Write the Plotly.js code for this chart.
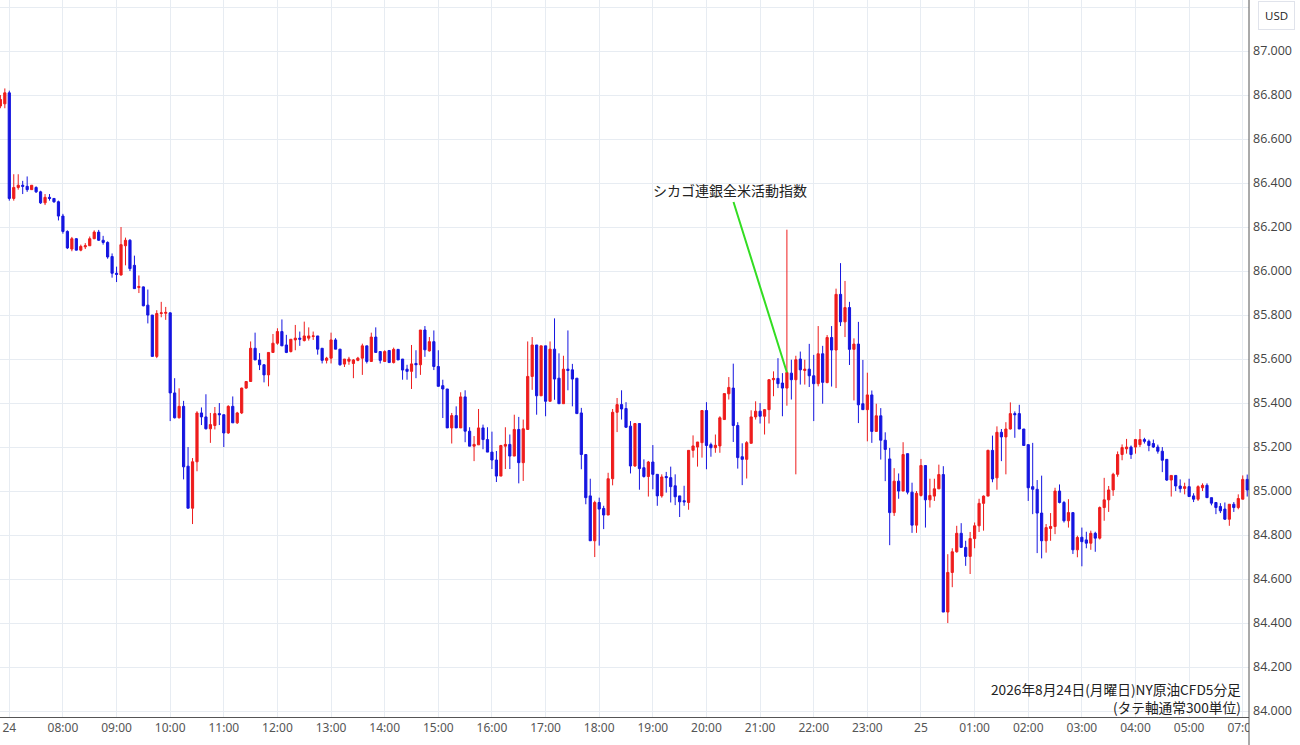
<!DOCTYPE html>
<html>
<head>
<meta charset="utf-8">
<script src="https://cdn.plot.ly/plotly-3.0.1.min.js"></script>
<style>
  html, body { margin: 0; padding: 0; background: #fff; }
  #chart { width: 1300px; height: 745px; }
</style>
</head>
<body>
<div id="chart"></div>
<script>
// 5-minute bars, NY crude oil CFD. First two bars are the end of the previous session,
// then 07:00 on the 24th through 05:55, and 07:00 / 07:05 of the next session.
const open = [
  86.75, 86.76,
  86.81, 86.33, 86.38, 86.39, 86.385, 86.37, 86.38, 86.36, 86.31, 86.335, 86.33, 86.315,
  86.25, 86.18, 86.10, 86.147, 86.095, 86.11, 86.115, 86.147, 86.177, 86.14, 86.13, 86.066,
  85.99, 85.982, 86.115, 86.14, 86.026, 85.925, 85.928, 85.845, 85.80, 85.612, 85.807, 85.808,
  85.81, 85.446, 85.333, 85.385, 85.113, 84.922, 85.133, 85.355, 85.337, 85.283, 85.298, 85.352,
  85.347, 85.264, 85.385, 85.31, 85.355, 85.468, 85.498, 85.649, 85.596, 85.574, 85.528, 85.63,
  85.672, 85.725, 85.664, 85.634, 85.687, 85.695, 85.684, 85.695, 85.703, 85.705, 85.649, 85.594,
  85.604, 85.687, 85.645, 85.577, 85.59, 85.58, 85.594, 85.604, 85.66, 85.589, 85.70, 85.634,
  85.589, 85.639, 85.584, 85.644, 85.60, 85.554, 85.544, 85.58, 85.574, 85.732, 85.637, 85.679,
  85.566, 85.479, 85.464, 85.287, 85.343, 85.287, 85.428, 85.272, 85.204, 85.21, 85.287, 85.234,
  85.177, 85.141, 85.068, 85.204, 85.212, 85.159, 85.28, 85.129, 85.28, 85.521, 85.664, 85.433,
  85.66, 85.408, 85.645, 85.513, 85.397, 85.554, 85.551, 85.513, 85.355, 85.166, 84.978, 84.774,
  84.948, 84.921, 84.891, 85.056, 85.358, 85.393, 85.375, 85.295, 85.114, 85.307, 85.106, 85.066,
  85.132, 85.076, 84.978, 85.066, 85.061, 85.024, 84.978, 84.956, 84.948, 85.185, 85.20, 85.22,
  85.366, 85.211, 85.197, 85.205, 85.325, 85.442, 85.468, 85.298, 85.156, 85.144, 85.217, 85.337,
  85.363, 85.34, 85.37, 85.506, 85.512, 85.491, 85.468, 85.536, 85.506, 85.60, 85.548, 85.554,
  85.524, 85.488, 85.624, 85.493, 85.698, 85.641, 85.894, 85.769, 85.834, 85.644, 85.668, 85.397,
  85.37, 85.437, 85.271, 85.342, 85.231, 85.146, 84.902, 85.045, 85.00, 85.17, 84.995, 84.845,
  84.98, 85.116, 84.96, 84.977, 85.01, 85.075, 84.45, 84.63, 84.724, 84.808, 84.744, 84.703,
  84.784, 84.842, 84.944, 84.977, 85.185, 85.06, 85.267, 85.246, 85.282, 85.352, 85.352, 85.282,
  85.211, 85.02, 85.008, 84.90, 84.774, 84.83, 84.839, 85.00, 84.948, 84.865, 84.902, 84.733,
  84.79, 84.778, 84.763, 84.808, 84.786, 84.925, 84.96, 85.005, 85.076, 85.166, 85.192, 85.20,
  85.20, 85.211, 85.234, 85.226, 85.216, 85.20, 85.181, 85.144, 85.05, 85.071, 85.023, 85.012,
  85.02, 84.978, 84.963, 85.015, 85.026, 84.97, 84.948, 84.93, 84.918, 84.872, 84.94, 84.925,
  84.963, 85.053
];
const high = [
  86.80, 86.83,
  86.82, 86.44, 86.44, 86.41, 86.43, 86.39, 86.385, 86.365, 86.35, 86.35, 86.33, 86.32,
  86.26, 86.185, 86.155, 86.15, 86.12, 86.127, 86.157, 86.185, 86.187, 86.16, 86.135, 86.08,
  86.02, 86.20, 86.152, 86.145, 86.07, 85.98, 85.93, 85.916, 85.80, 85.822, 85.86, 85.837,
  85.812, 85.513, 85.467, 85.41, 85.20, 85.15, 85.363, 85.38, 85.44, 85.355, 85.382, 85.40,
  85.347, 85.39, 85.43, 85.36, 85.47, 85.50, 85.68, 85.72, 85.627, 85.576, 85.63, 85.714,
  85.74, 85.78, 85.71, 85.69, 85.755, 85.725, 85.77, 85.744, 85.725, 85.705, 85.649, 85.61,
  85.72, 85.695, 85.645, 85.60, 85.61, 85.60, 85.61, 85.67, 85.66, 85.72, 85.744, 85.634,
  85.64, 85.639, 85.652, 85.644, 85.60, 85.574, 85.664, 85.64, 85.732, 85.75, 85.70, 85.73,
  85.64, 85.506, 85.464, 85.355, 85.385, 85.449, 85.458, 85.29, 85.25, 85.373, 85.302, 85.29,
  85.27, 85.182, 85.21, 85.29, 85.257, 85.347, 85.337, 85.325, 85.68, 85.70, 85.664, 85.66,
  85.66, 85.68, 85.785, 85.626, 85.615, 85.73, 85.578, 85.513, 85.378, 85.166, 85.056, 84.956,
  84.97, 84.933, 85.083, 85.373, 85.423, 85.458, 85.404, 85.318, 85.307, 85.307, 85.144, 85.137,
  85.209, 85.076, 85.076, 85.087, 85.111, 85.076, 84.978, 85.024, 85.185, 85.253, 85.223, 85.366,
  85.404, 85.22, 85.257, 85.34, 85.443, 85.518, 85.579, 85.313, 85.217, 85.227, 85.367, 85.408,
  85.40, 85.373, 85.509, 85.544, 85.604, 85.536, 86.188, 85.597, 85.615, 85.634, 85.597, 85.669,
  85.619, 85.75, 85.66, 85.709, 85.75, 85.92, 86.036, 85.955, 85.86, 85.694, 85.769, 85.596,
  85.538, 85.457, 85.397, 85.377, 85.267, 85.196, 85.104, 85.08, 85.222, 85.17, 85.038, 85.00,
  85.146, 85.116, 85.056, 85.056, 85.12, 85.113, 84.713, 84.74, 84.842, 84.854, 84.774, 84.814,
  84.857, 84.965, 84.98, 85.188, 85.252, 85.294, 85.282, 85.313, 85.403, 85.362, 85.392, 85.282,
  85.211, 85.219, 85.05, 85.07, 84.85, 84.90, 85.015, 85.03, 84.955, 84.963, 84.902, 84.797,
  84.834, 84.815, 84.82, 84.815, 84.93, 85.06, 85.023, 85.083, 85.18, 85.212, 85.237, 85.207,
  85.237, 85.282, 85.242, 85.234, 85.234, 85.211, 85.20, 85.144, 85.071, 85.071, 85.053, 85.038,
  85.056, 84.99, 85.026, 85.035, 85.035, 84.97, 84.948, 84.945, 84.948, 84.94, 84.95, 84.985,
  85.071, 85.075
];
const low = [
  86.74, 86.74,
  86.32, 86.32, 86.37, 86.35, 86.36, 86.37, 86.355, 86.305, 86.30, 86.32, 86.31, 86.23,
  86.17, 86.10, 86.09, 86.094, 86.09, 86.10, 86.114, 86.145, 86.137, 86.12, 86.056, 85.97,
  85.95, 85.98, 86.026, 86.00, 85.92, 85.90, 85.84, 85.762, 85.612, 85.604, 85.79, 85.778,
  85.318, 85.33, 85.33, 85.053, 84.922, 84.85, 85.09, 85.30, 85.28, 85.219, 85.28, 85.30,
  85.20, 85.26, 85.31, 85.305, 85.35, 85.465, 85.498, 85.596, 85.55, 85.494, 85.476, 85.63,
  85.665, 85.66, 85.627, 85.63, 85.64, 85.66, 85.68, 85.684, 85.687, 85.62, 85.58, 85.58,
  85.58, 85.645, 85.57, 85.564, 85.574, 85.513, 85.59, 85.528, 85.58, 85.589, 85.63, 85.58,
  85.589, 85.584, 85.58, 85.596, 85.506, 85.506, 85.464, 85.513, 85.528, 85.61, 85.634, 85.55,
  85.476, 85.332, 85.287, 85.216, 85.287, 85.287, 85.222, 85.204, 85.136, 85.21, 85.19, 85.177,
  85.10, 85.041, 85.068, 85.10, 85.10, 85.159, 85.035, 85.046, 85.28, 85.46, 85.347, 85.433,
  85.34, 85.408, 85.415, 85.397, 85.397, 85.458, 85.385, 85.352, 85.099, 84.94, 84.774, 84.70,
  84.752, 84.827, 84.891, 85.026, 85.268, 85.325, 85.287, 85.08, 85.11, 85.006, 85.061, 84.975,
  85.008, 84.933, 84.97, 84.993, 84.948, 84.936, 84.882, 84.933, 84.915, 85.152, 85.111, 85.152,
  85.099, 85.156, 85.174, 85.174, 85.325, 85.416, 85.223, 85.102, 85.027, 85.057, 85.217, 85.325,
  85.307, 85.257, 85.307, 85.431, 85.468, 85.34, 85.388, 85.416, 85.076, 85.484, 85.484, 85.473,
  85.318, 85.476, 85.397, 85.49, 85.475, 85.468, 85.75, 85.70, 85.573, 85.412, 85.309, 85.37,
  85.226, 85.219, 85.271, 85.143, 85.045, 84.754, 84.887, 84.965, 85.00, 84.985, 84.81, 84.81,
  84.975, 84.834, 84.925, 84.955, 85.01, 84.45, 84.40, 84.563, 84.72, 84.744, 84.66, 84.623,
  84.74, 84.814, 84.82, 84.977, 85.04, 85.006, 85.136, 85.076, 85.28, 85.242, 85.282, 85.207,
  84.955, 84.895, 84.718, 84.694, 84.72, 84.774, 84.804, 84.944, 84.857, 84.834, 84.714, 84.699,
  84.658, 84.74, 84.733, 84.724, 84.78, 84.865, 84.905, 84.978, 85.065, 85.14, 85.17, 85.146,
  85.17, 85.20, 85.216, 85.181, 85.196, 85.17, 85.086, 85.046, 84.975, 85.00, 84.993, 84.985,
  84.975, 84.95, 84.955, 85.00, 84.97, 84.935, 84.895, 84.90, 84.869, 84.842, 84.905, 84.917,
  84.963, 84.975
];
const close = [
  86.78, 86.81,
  86.33, 86.38, 86.39, 86.385, 86.37, 86.39, 86.36, 86.31, 86.335, 86.33, 86.315, 86.25,
  86.18, 86.105, 86.147, 86.095, 86.112, 86.115, 86.147, 86.177, 86.14, 86.13, 86.064, 85.99,
  85.985, 86.12, 86.14, 86.011, 85.92, 85.93, 85.842, 85.80, 85.612, 85.807, 85.81, 85.812,
  85.446, 85.333, 85.385, 85.11, 84.922, 85.133, 85.355, 85.337, 85.283, 85.302, 85.352, 85.347,
  85.264, 85.385, 85.31, 85.355, 85.468, 85.498, 85.649, 85.596, 85.574, 85.528, 85.63, 85.672,
  85.725, 85.66, 85.63, 85.69, 85.695, 85.69, 85.705, 85.705, 85.705, 85.645, 85.594, 85.604,
  85.687, 85.645, 85.574, 85.60, 85.60, 85.596, 85.604, 85.66, 85.589, 85.70, 85.63, 85.594,
  85.634, 85.584, 85.644, 85.596, 85.55, 85.544, 85.578, 85.574, 85.732, 85.642, 85.679, 85.566,
  85.476, 85.464, 85.287, 85.343, 85.287, 85.428, 85.272, 85.204, 85.212, 85.287, 85.234, 85.177,
  85.141, 85.068, 85.207, 85.212, 85.159, 85.28, 85.129, 85.283, 85.521, 85.664, 85.433, 85.66,
  85.408, 85.645, 85.509, 85.397, 85.554, 85.548, 85.509, 85.352, 85.166, 84.97, 84.774, 84.948,
  84.918, 84.891, 85.056, 85.358, 85.393, 85.373, 85.29, 85.114, 85.307, 85.102, 85.066, 85.132,
  85.076, 84.978, 85.064, 85.061, 85.02, 84.974, 84.951, 84.951, 85.185, 85.205, 85.223, 85.366,
  85.207, 85.197, 85.208, 85.333, 85.443, 85.471, 85.298, 85.152, 85.144, 85.22, 85.337, 85.363,
  85.34, 85.37, 85.506, 85.512, 85.488, 85.468, 85.539, 85.506, 85.597, 85.551, 85.554, 85.524,
  85.488, 85.624, 85.494, 85.698, 85.641, 85.894, 85.769, 85.834, 85.644, 85.668, 85.392, 85.37,
  85.437, 85.271, 85.342, 85.231, 85.189, 84.902, 85.045, 85.00, 85.166, 84.995, 84.845, 84.99,
  85.116, 84.96, 84.98, 85.01, 85.075, 84.45, 84.63, 84.724, 84.808, 84.744, 84.703, 84.784,
  84.842, 84.944, 84.977, 85.185, 85.055, 85.267, 85.246, 85.282, 85.352, 85.347, 85.282, 85.207,
  85.015, 85.008, 84.90, 84.774, 84.834, 84.839, 85.00, 84.948, 84.865, 84.902, 84.733, 84.789,
  84.77, 84.763, 84.808, 84.786, 84.925, 84.96, 85.005, 85.076, 85.166, 85.198, 85.20, 85.166,
  85.234, 85.234, 85.226, 85.207, 85.20, 85.181, 85.14, 85.05, 85.071, 85.023, 85.011, 85.02,
  84.975, 84.963, 85.02, 85.026, 84.97, 84.945, 84.925, 84.91, 84.872, 84.94, 84.925, 84.966,
  85.053, 85.005
];

// hour labels, one every 12 bars starting at the 07:00 bar
const hourLabels = [
  "24", "08:00", "09:00", "10:00", "11:00", "12:00", "13:00", "14:00", "15:00", "16:00",
  "17:00", "18:00", "19:00", "20:00", "21:00", "22:00", "23:00", "25", "01:00", "02:00",
  "03:00", "04:00", "05:00", "07:00"
];

const eventLabel = "シカゴ連銀全米活動指数";
const eventBar = 174;
const chartNote = "2026年8月24日(月曜日)NY原油CFD5分足<br>(タテ軸通常300単位)";

// bar position: the 07:00 bar is 0, the two carried-over bars sit left of it
const firstBar = -2;
const barX = open.map((_, k) => k + firstBar);

const plotW = 1249;
const plotH = 717;
const bottomH = 745 - plotH;
const jpFont = "Noto Sans CJK JP, Noto Sans, sans-serif";
const gridColor = "#e7ecf2";

const trace = {
  type: "candlestick",
  x: barX,
  open: open,
  high: high,
  low: low,
  close: close,
  increasing: { line: { color: "#ee1c1c", width: 1 }, fillcolor: "#ee1c1c" },
  decreasing: { line: { color: "#1515e0", width: 1 }, fillcolor: "#1515e0" },
  whiskerwidth: 0,
  hoverinfo: "skip",
};

const layout = {
  width: 1300,
  height: 745,
  margin: { l: 0, r: 1300 - plotW, t: 0, b: bottomH },
  paper_bgcolor: "#ffffff",
  plot_bgcolor: "#ffffff",
  showlegend: false,
  hovermode: false,
  font: { family: "Noto Sans, sans-serif", color: "#444" },
  xaxis: {
    type: "linear",
    range: [-2.08, 277.4],
    tickmode: "array",
    tickvals: hourLabels.map((_, k) => k * 12),
    ticktext: hourLabels,
    showgrid: true,
    gridcolor: gridColor,
    zeroline: false,
    showline: true,
    linecolor: "#555",
    linewidth: 1,
    ticks: "",
    tickfont: { size: 12, color: "#555" },
    rangeslider: { visible: false },
    fixedrange: true,
  },
  yaxis: {
    side: "right",
    range: [83.973, 87.232],
    tick0: 84,
    dtick: 0.2,
    tickformat: ".3f",
    showgrid: true,
    gridcolor: gridColor,
    zeroline: false,
    showline: false,
    ticks: "",
    ticklabelstandoff: 3,
    tickfont: { family: "Open Sans, sans-serif", size: 12.5, color: "#444" },
    fixedrange: true,
  },
  shapes: [
    // the price panel clips the last time label
    {
      type: "rect", xref: "paper", yref: "paper", layer: "above",
      x0: 1, x1: 1300 / plotW, y0: -bottomH / plotH, y1: -0.5 / plotH,
      fillcolor: "#ffffff", line: { width: 0 },
    },
    {
      type: "line", xref: "paper", yref: "paper", layer: "above",
      x0: 1, x1: 1, y0: -bottomH / plotH, y1: 1,
      line: { color: "#555", width: 1 },
    },
  ],
  annotations: [
    {
      x: eventBar, y: close[eventBar - firstBar],
      xref: "x", yref: "y",
      text: eventLabel,
      showarrow: true, arrowhead: 0, arrowwidth: 2, arrowcolor: "#33dd22",
      ax: -57, ay: -182,
      font: { family: jpFont, size: 14, color: "#222" },
    },
    {
      xref: "paper", yref: "paper",
      x: 1243 / plotW, y: 1 - 698 / plotH,
      xanchor: "right", yanchor: "middle", align: "right",
      text: chartNote, showarrow: false,
      font: { family: jpFont, size: 13.7, color: "#222" },
    },
    {
      xref: "paper", yref: "paper",
      x: 1276 / plotW, y: 1 - 16 / plotH,
      xanchor: "center", yanchor: "middle",
      text: "USD", showarrow: false,
      bordercolor: "#e0e3eb", borderwidth: 1, borderpad: 6,
      font: { family: "Open Sans, sans-serif", size: 11.5, color: "#222" },
    },
  ],
};

Plotly.newPlot("chart", [trace], layout, { staticPlot: true, displayModeBar: false });
</script>
</body>
</html>
